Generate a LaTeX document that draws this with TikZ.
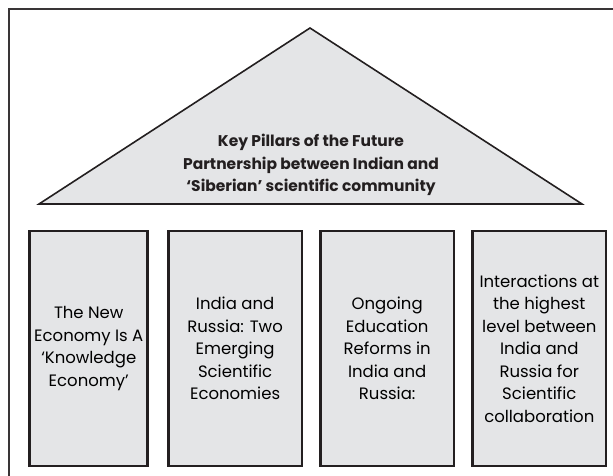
\documentclass[tikz,border=0pt]{standalone}
\usepackage{fontspec}
\setmainfont{Poppins}
\usetikzlibrary{positioning}

\definecolor{pillargray}{HTML}{E4E5E7}
\definecolor{inkdark}{HTML}{231F20}

\begin{document}
\begin{tikzpicture}[x=1pt, y=-1pt,
		pillar/.style={rectangle, draw=inkdark, line width=2.6pt, fill=pillargray, text centered,
				align=center, minimum height=235pt, inner sep=2pt, text=black,
				font=\fontsize{16.5}{22.5}\selectfont},
		roof/.style={draw=inkdark, line width=1.6pt, fill=pillargray, line join=miter},
		title/.style={align=center, text=inkdark, font=\bfseries\fontsize{15.5}{22.5}\selectfont},
    node distance=16pt
]

\useasboundingbox (0,0) rectangle (613,475);
\clip (0,0) rectangle (613,475);

% outer frame
\draw [draw=inkdark!90, line width=2.2pt] (9,485) -- (9,9) -- (625,9);

% roof
\coordinate (Apex) at (310,28);
\coordinate (BaseL) at (39,204);
\coordinate (BaseR) at (582,204);
\draw [roof] (Apex) -- (BaseR) -- (BaseL) -- cycle;
\draw [draw=inkdark, line width=2.6pt] (BaseL) -- (BaseR);
\node [title] (Title) at (311,165) {Key Pillars of the Future\\Partnership between Indian and\\`Siberian' scientific community};

% pillars
\node [pillar, minimum width=118pt] (PillarA) at (88.75,348.5)
	{The New\\Economy Is A\\`Knowledge\\Economy'};
\node [pillar, minimum width=133.5pt, right=18pt of PillarA] (PillarB)
	{India and\\Russia: Two\\Emerging\\Scientific\\Economies};
\node [pillar, minimum width=133.5pt, right=of PillarB] (PillarC)
	{Ongoing\\Education\\Reforms in\\India and\\Russia:};
\node [pillar, minimum width=133.5pt, right=of PillarC] (PillarD)
	{Interactions at\\the highest\\level between\\India and\\Russia for\\Scientific\\collaboration};

\end{tikzpicture}
\end{document}
